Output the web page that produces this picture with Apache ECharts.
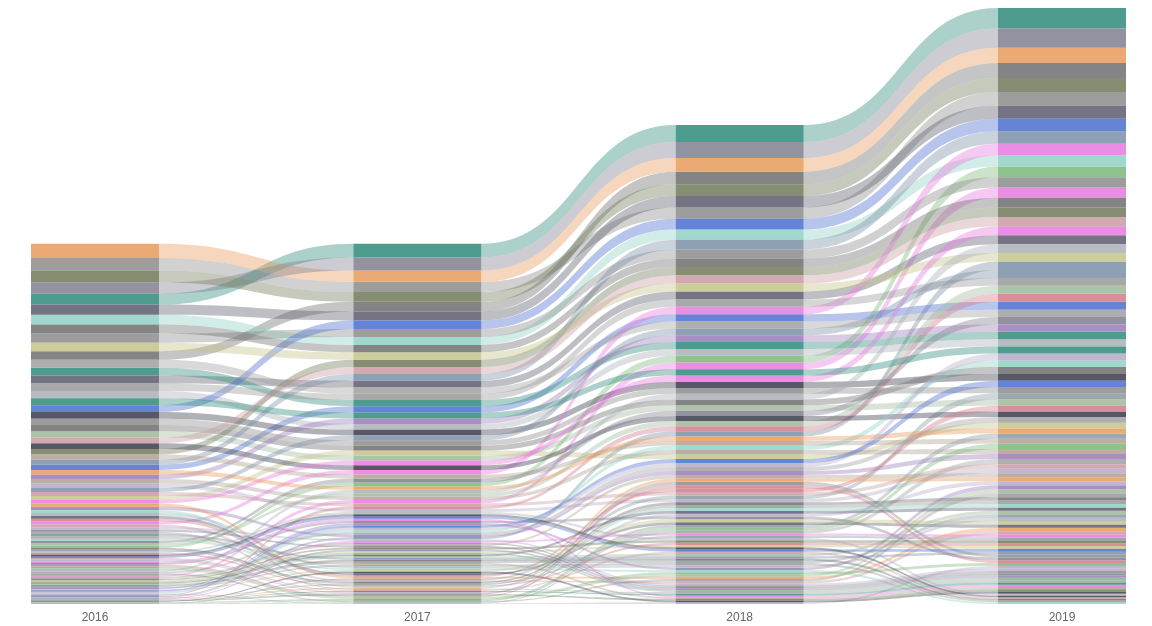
<!DOCTYPE html>
<html><head><meta charset="utf-8">
<script src="https://cdn.jsdelivr.net/npm/echarts@6/dist/echarts.min.js"></script>
<style>html,body{margin:0;padding:0;background:#fff}#c{width:1152px;height:626px}</style>
</head><body><div id="c"></div>
<script>
const years = ['2016','2017','2018','2019'];
const v2016 = [22,3,15,8,2,19,11,5,14,1, 9,25,4,12,7,17,6,2,10,13, 3,20,8,1,16,5,11,2,9,14, 4,7,18,3,12,6,1,10,15,2, 8,5,21,3,13,4,9,1,11,6, 16,2,7,12,3,10,5,14,2,8,
  3,1,2,4,2,3,1,5,2,3, 4,2,1,3,2,3,4,1,2,3, 2,4,3,1,2,3,2,5,1,3, 2,3,1,4,2,3,2,1,3,4];
const v2017 = [18,6,17,5,4,24,9,3,12,2, 11,20,7,10,9,14,4,5,13,10, 2,23,6,3,14,8,9,1,12,11, 6,5,16,4,15,3,2,8,13,4, 10,3,17,6,11,7,7,2,9,8, 13,4,9,10,2,12,3,11,4,6,
  2,3,3,3,4,2,2,3,3,4, 3,3,2,4,3,2,3,2,3,2, 3,2,4,2,3,4,3,2,3,2, 3,4,2,3,3,2,3,3,2,3];
const v2018 = [20,12,22,6,9,30,10,4,14,5, 13,24,12,11,8,18,7,9,15,12, 4,28,8,6,16,13,10,3,17,12, 9,6,20,7,19,4,5,9,14,8, 12,6,21,10,13,9,8,5,10,11, 15,7,12,11,4,14,5,12,7,8,
  4,3,5,4,4,6,3,4,4,5, 3,4,6,3,4,5,4,3,4,4, 5,3,4,6,3,4,4,5,3,4, 4,4,5,3,6,4,3,4,5,3];
const v2019 = [24,18,26,8,15,36,11,6,16,9, 14,27,19,12,10,20,9,14,17,13, 7,34,9,11,18,20,12,5,22,13, 14,8,23,10,22,6,9,10,15,12, 13,10,25,15,14,13,9,9,11,16, 17,12,14,12,7,16,6,13,11,9,
  5,4,6,3,7,5,4,6,3,5, 4,6,5,4,3,7,5,4,6,3, 6,4,5,7,4,3,5,6,4,5, 5,3,6,4,7,5,4,5,6,4];
const palette = ['#8c8c8c','#e878e0','#6e6e6e','#b5a9c9','#7a8fa6','#2e8b7a','#9fb89a','#c99aa3','#5c5c6e','#a0a0a0','#4a6fd1','#e89b5a','#7ab87a','#3a3a4a','#c4c48a','#8fd1c4','#9a7ab8','#d17a8a','#707a5a','#aab0b8','#999999','#7f7f8f','#b0a090','#8a9aa0'];

const vals = [v2016, v2017, v2018, v2019];
const n = v2016.length;
const stacks = vals.map(arr => {
  const idx = arr.map((v,i)=>i).sort((a,b)=>arr[a]-arr[b] || a-b);
  const pos = new Array(n); let acc = 0;
  idx.forEach(i => { pos[i] = [acc, acc+arr[i]]; acc += arr[i]; });
  return {pos, total: acc};
});
const yMax = Math.max(...stacks.map(s=>s.total));
const HW = 64;

function renderItem(params, api) {
  const i = api.value(0);
  const color = palette[i % palette.length];
  const children = [];
  const pts = stacks.map((s, y) => {
    const b = api.coord([y, s.pos[i][0]]);
    const t = api.coord([y, s.pos[i][1]]);
    return {x: b[0], yb: b[1], yt: t[1]};
  });
  for (let y = 0; y < 3; y++) {
    const a = pts[y], c = pts[y+1];
    const x0 = a.x + HW, x1 = c.x - HW, mx = (x0 + x1) / 2;
    const d = `M${x0},${a.yt} C${mx},${a.yt} ${mx},${c.yt} ${x1},${c.yt} L${x1},${c.yb} C${mx},${c.yb} ${mx},${a.yb} ${x0},${a.yb} Z`;
    children.push({type:'path', shape:{pathData:d}, style:{fill:color, opacity:0.4}});
  }
  pts.forEach(p => {
    children.push({type:'rect', shape:{x:p.x-HW, y:p.yt, width:2*HW, height:Math.max(p.yb-p.yt,0.5)}, style:{fill:color, opacity:0.85}});
  });
  return {type:'group', children};
}

const chart = echarts.init(document.getElementById('c'));
chart.setOption({
  animation:false,
  grid:{left:95, right:90, top:8, bottom:22},
  xAxis:{type:'value', min:0, max:3, interval:1, splitLine:{show:false}, axisLine:{show:false}, axisTick:{show:false},
    axisLabel:{color:'#666', fontSize:12, formatter:v=>years[v]}},
  yAxis:{type:'value', min:0, max:yMax, show:false},
  series:[{type:'custom', renderItem, data: v2016.map((v,i)=>[i]), clip:false}]
});
</script></body></html>
